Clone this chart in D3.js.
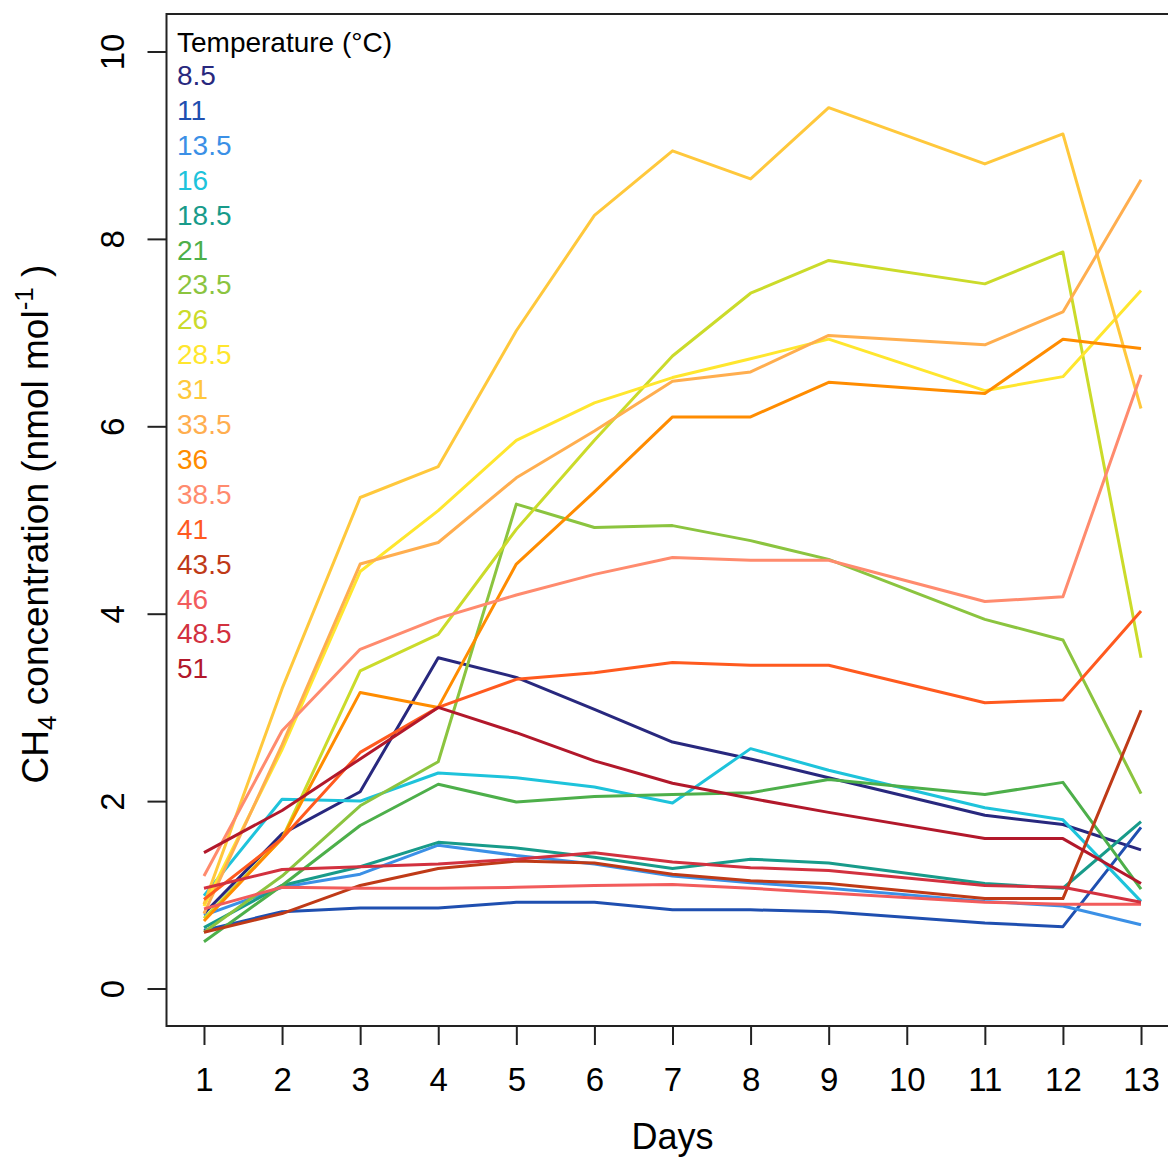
<!DOCTYPE html>
<html lang="en">
<head>
<meta charset="utf-8">
<title>CH4 concentration by temperature</title>
<script src="https://d3js.org/d3.v7.min.js"></script>
<style>
body { margin: 0; background: #fff; }
svg text { font-family: "Liberation Sans", Arial, sans-serif; }
.axis path, .axis line { stroke: #222; stroke-width: 2; }
</style>
</head>
<body>
<svg width="1168" height="1158"></svg>
<script>
// sampling days (no day 10)
var days = [1, 2, 3, 4, 5, 6, 7, 8, 9, 11, 12, 13];
var dayTicks = [1, 2, 3, 4, 5, 6, 7, 8, 9, 10, 11, 12, 13];
var yTicks = [0, 2, 4, 6, 8, 10];

var temps = ["8.5", "11", "13.5", "16", "18.5", "21", "23.5", "26", "28.5",
             "31", "33.5", "36", "38.5", "41", "43.5", "46", "48.5", "51"];

// CH4 (nmol mol-1) per temperature, one value per sampling day
var t8_5  = [0.80, 1.65, 2.10, 3.53, 3.32, 2.98, 2.63, 2.45, 2.25, 1.85, 1.75, 1.48];
var t11   = [0.62, 0.82, 0.86, 0.86, 0.92, 0.92, 0.84, 0.84, 0.82, 0.70, 0.66, 1.72];
var t13_5 = [0.78, 1.08, 1.22, 1.53, 1.42, 1.33, 1.20, 1.13, 1.07, 0.93, 0.88, 0.68];
var t16   = [0.99, 2.02, 2.00, 2.30, 2.25, 2.15, 1.98, 2.56, 2.33, 1.93, 1.80, 0.93];
var t18_5 = [0.65, 1.10, 1.30, 1.56, 1.50, 1.40, 1.28, 1.38, 1.34, 1.12, 1.07, 1.78];
var t21   = [0.50, 1.10, 1.74, 2.18, 1.99, 2.05, 2.07, 2.09, 2.23, 2.07, 2.20, 1.06];
var t23_5 = [0.60, 1.20, 1.95, 2.42, 5.17, 4.92, 4.94, 4.78, 4.58, 3.94, 3.72, 2.08];
var t26   = [0.75, 1.60, 3.39, 3.78, 4.90, 5.85, 6.75, 7.42, 7.77, 7.52, 7.86, 3.53];
var t28_5 = [0.88, 2.55, 4.45, 5.10, 5.85, 6.25, 6.52, 6.72, 6.93, 6.38, 6.53, 7.45];
var t31   = [0.90, 3.20, 5.24, 5.57, 7.02, 8.25, 8.94, 8.64, 9.40, 8.80, 9.12, 6.19];
var t33_5 = [0.80, 2.60, 4.53, 4.76, 5.45, 5.95, 6.48, 6.58, 6.97, 6.87, 7.22, 8.63];
var t36   = [0.72, 1.60, 3.16, 3.00, 4.53, 5.30, 6.10, 6.10, 6.47, 6.35, 6.93, 6.83];
var t38_5 = [1.20, 2.75, 3.62, 3.95, 4.20, 4.42, 4.60, 4.57, 4.57, 4.13, 4.18, 6.55];
var t41   = [0.95, 1.60, 2.52, 3.00, 3.30, 3.37, 3.48, 3.45, 3.45, 3.05, 3.08, 4.03];
var t43_5 = [0.60, 0.80, 1.10, 1.28, 1.36, 1.34, 1.22, 1.15, 1.12, 0.96, 0.96, 2.97];
var t46   = [0.85, 1.08, 1.07, 1.07, 1.08, 1.10, 1.11, 1.07, 1.02, 0.92, 0.90, 0.90];
var t48_5 = [1.07, 1.27, 1.30, 1.33, 1.38, 1.45, 1.35, 1.29, 1.26, 1.10, 1.08, 0.92];
var t51   = [1.45, 1.90, 2.45, 3.00, 2.73, 2.43, 2.19, 2.03, 1.88, 1.60, 1.60, 1.12];

var series = [t8_5, t11, t13_5, t16, t18_5, t21, t23_5, t26, t28_5,
              t31, t33_5, t36, t38_5, t41, t43_5, t46, t48_5, t51];

var colors = ["#28287e", "#1f4fb0", "#3b90e6", "#1ec3db", "#189b8a", "#4daf4a",
              "#8bc43f", "#cbdb2a", "#ffe62e", "#ffc83c", "#ffae4f", "#ff8c00",
              "#ff8b6e", "#ff5a1f", "#bf3a17", "#f25c5c", "#d2313f", "#b2182b"];

var svg = d3.select("svg");

// plot region (R style 4% padding around [1,13] x [0,10])
var x = d3.scaleLinear().domain([0.52, 13.48]).range([166.5, 1178.5]);
var y = d3.scaleLinear().domain([-0.4, 10.4]).range([1026, 14]);

// box
svg.append("rect")
   .attr("x", x.range()[0]).attr("y", y.range()[1])
   .attr("width", x.range()[1] - x.range()[0])
   .attr("height", y.range()[0] - y.range()[1])
   .attr("fill", "none").attr("stroke", "#222").attr("stroke-width", 2);

// x axis
var gx = svg.append("g").attr("class", "axis")
   .attr("transform", "translate(0," + y.range()[0] + ")")
   .call(d3.axisBottom(x).tickValues(dayTicks).tickSize(19).tickPadding(23).tickFormat(d3.format("d")));
gx.select(".domain").remove();
gx.selectAll("text").attr("font-size", 33).attr("fill", "#000")
  .attr("font-family", "Liberation Sans, Arial, sans-serif");

// y axis
var gy = svg.append("g").attr("class", "axis")
   .attr("transform", "translate(" + x.range()[0] + ",0)")
   .call(d3.axisLeft(y).tickValues(yTicks).tickSize(19).tickFormat(d3.format("d")));
gy.select(".domain").remove();
gy.selectAll("text")
  .attr("font-size", 33).attr("fill", "#000")
  .attr("font-family", "Liberation Sans, Arial, sans-serif")
  .attr("x", null).attr("dy", null)
  .attr("text-anchor", "middle")
  .attr("transform", "translate(-43,0) rotate(-90)");

// axis titles
svg.append("text")
   .attr("x", x(7)).attr("y", 1149)
   .attr("text-anchor", "middle").attr("font-size", 36)
   .text("Days");

var yt = svg.append("text")
   .attr("transform", "translate(48," + (y(5) + 4) + ") rotate(-90)")
   .attr("text-anchor", "middle").attr("font-size", 37);
yt.append("tspan").text("CH");
yt.append("tspan").attr("font-size", 26).attr("dy", 8).text("4");
yt.append("tspan").attr("dy", -8).text(" concentration (nmol mol");
yt.append("tspan").attr("font-size", 26).attr("dy", -15).text("-1");
yt.append("tspan").attr("dy", 15).text(" )");

// lines
var line = d3.line()
   .x(function(d, i) { return x(days[i]); })
   .y(function(d) { return y(d); });

svg.append("g").selectAll("path")
   .data(series)
   .enter().append("path")
   .attr("d", line)
   .attr("fill", "none")
   .attr("stroke", function(d, i) { return colors[i]; })
   .attr("stroke-width", 3)
   .attr("stroke-linejoin", "round");

// legend
var leg = svg.append("g").attr("font-size", 28);
leg.append("text").attr("x", 177).attr("y", 52).attr("fill", "#000").text("Temperature (\u00B0C)");
leg.selectAll("text.item")
   .data(temps)
   .enter().append("text")
   .attr("class", "item")
   .attr("x", 177)
   .attr("y", function(d, i) { return 85 + i * 34.9; })
   .attr("fill", function(d, i) { return colors[i]; })
   .text(function(d) { return d; });
</script>
</body>
</html>
